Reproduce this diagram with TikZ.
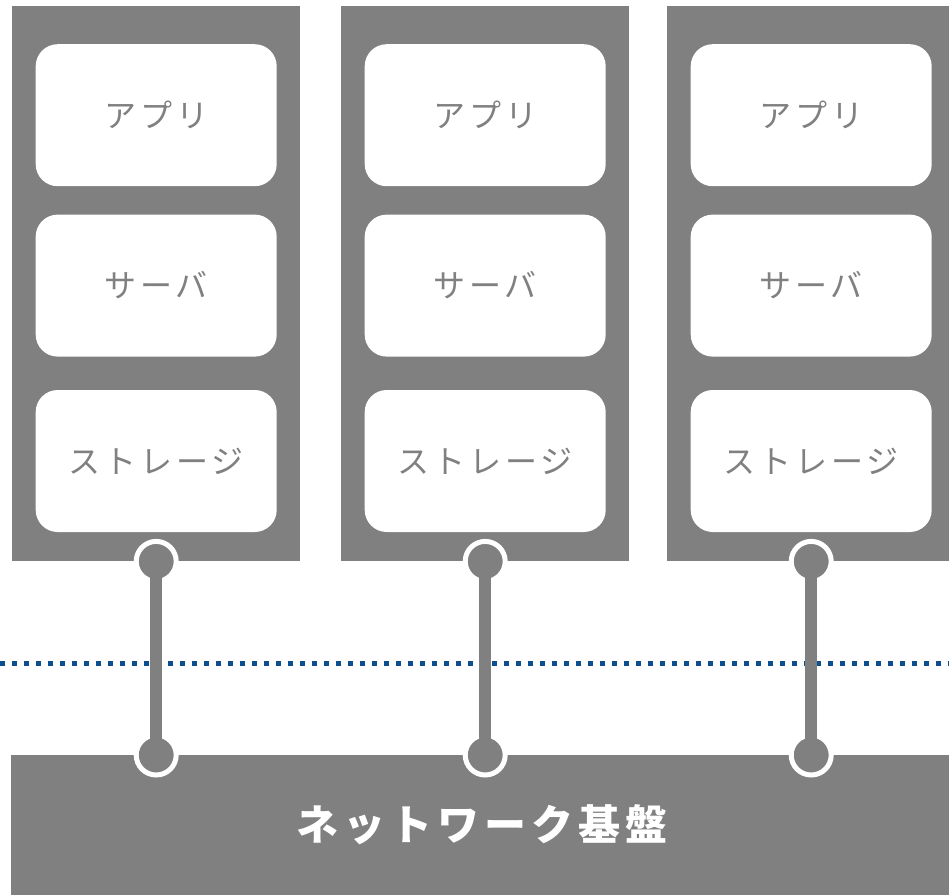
\documentclass[tikz,border=0pt]{standalone}
\usepackage{fontspec}
\newfontfamily\jpfont{Noto Sans CJK JP}
\usetikzlibrary{positioning}
\definecolor{rackgray}{HTML}{808080}
\definecolor{netblue}{HTML}{0B4F8E}

\begin{document}
\begin{tikzpicture}[x=1pt, y=-1pt, inner sep=0pt,
  rack/.style={fill=rackgray, minimum width=288pt, minimum height=555pt, anchor=north west},
  layer/.style={fill=white, rounded corners=22pt, minimum width=241pt, minimum height=142pt, text=rackgray,
    font=\jpfont\addfontfeature{LetterSpace=12}\fontsize{32}{32}\selectfont},
  base/.style={fill=rackgray, minimum width=942pt, minimum height=140pt, anchor=north west, text=white,
    font=\jpfont\bfseries\addfontfeature{LetterSpace=12}\fontsize{42}{42}\selectfont},
  port/.style={circle, fill=rackgray, draw=white, line width=5pt, minimum size=40pt},
  link/.style={draw=rackgray, line width=12pt},
  netline/.style={draw=netblue, line width=5pt, dash pattern=on 5pt off 7pt}]
\useasboundingbox (0,0) rectangle (949,894);
% three stacks
\foreach \i/\x in {1/12, 2/341, 3/667} {
  \node[rack] (RACK\i) at (\x,6) {};
  \node[layer, below=38pt of RACK\i.north] (APP\i) {アプリ};
  \node[layer, below=28pt of APP\i]        (SRV\i) {サーバ};
  \node[layer, below=33pt of SRV\i]        (STO\i) {ストレージ};
}
\node[base] (NET) at (11,755) {ネットワーク基盤};
% boundary
\coordinate (LINEW) at (0,663);
\coordinate (LINEE) at (949,663);
\draw[netline] (LINEW) -- (LINEE);
% connections
\foreach \i in {1,2,3} {
  \node[port] (TOP\i) at (RACK\i.south) {};
  \node[port] (BOT\i) at (TOP\i |- NET.north) {};
  \draw[link] (TOP\i.center) -- (BOT\i.center);
}
\end{tikzpicture}
\end{document}
